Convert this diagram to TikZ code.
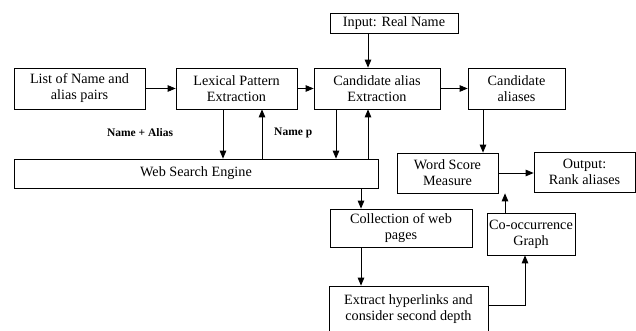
\documentclass[tikz,border=0pt]{standalone}
\usepackage{fontspec}
\setmainfont{Liberation Serif}
\usepackage{tikz}
\usetikzlibrary{arrows}
\tikzstyle{box} = [draw, line width=0.8pt, inner sep=0pt, align=center, font=\fontsize{14.2}{16}\selectfont]
\tikzstyle{lbl} = [inner sep=0pt, font=\fontsize{11.5}{13}\selectfont\bfseries]
\tikzstyle{con} = [->, >=triangle 45, line width=0.8pt]

\begin{document}
\begin{tikzpicture}[x=1pt,y=-1pt]
\useasboundingbox (0,0) rectangle (636,331);
    \clip (0,0) rectangle (636,331);

	\node[box, minimum width=131pt, minimum height=41pt] (list) at (79.5,88.5) {List of Name and\\alias pairs};
	\node[box, minimum width=121pt, minimum height=41pt] (lex) at (236.5,88.5) {Lexical Pattern\\Extraction};
	\node[box, minimum width=126pt, minimum height=41pt] (cand) at (377,88.5) {Candidate alias\\Extraction};
	\node[box, minimum width=128pt, minimum height=20pt] (input) at (394,23) {Input: Real Name};
	\node[box, minimum width=97pt, minimum height=41pt] (cal) at (516.5,88.5) {Candidate\\aliases};

	\node[box, minimum width=364pt, minimum height=29pt] (web) at (196,173.5) {Web Search Engine};
	\node[box, minimum width=101pt, minimum height=40pt] (word) at (447.5,173) {Word Score\\Measure};
	\node[box, minimum width=101pt, minimum height=40pt] (out) at (584.5,172) {Output:\\Rank aliases};

	\node[box, minimum width=142pt, minimum height=38pt] (coll) at (401,228) {Collection of web\\pages};
	\node[box, minimum width=88pt, minimum height=42pt] (cooc) at (531,234) {Co-occurrence\\Graph};
	\node[box, minimum width=159pt, minimum height=46pt] (ext) at (408.5,309) {Extract hyperlinks and\\consider second depth};

    \node[lbl] (na) at (140,133) {Name + Alias};
    \node[lbl, anchor=west] (np) at (274,133) {Name p};

    \draw[con] (list.east) -- (lex.west);
    \draw[con] (lex.east) -- (cand.west);
    \draw[con] (cand.east) -- (cal.west);
    \draw[con] ([xshift=-9pt]cand.north |- input.south) -- ([xshift=-9pt]cand.north);

    \draw[con] ([xshift=-13.5pt]lex.south) -- ([xshift=-13.5pt]lex.south |- web.north);
    \draw[con] ([xshift=25.5pt]lex.south |- web.north) -- ([xshift=25.5pt]lex.south);
    \draw[con] ([xshift=-41pt]cand.south) -- ([xshift=-41pt]cand.south |- web.north);
    \draw[con] ([xshift=-9pt]cand.south |- web.north) -- ([xshift=-9pt]cand.south);

    \draw[con] ([xshift=-33.5pt]cal.south) -- ([xshift=-33.5pt]cal.south |- word.north);
    \draw[con] (word.east) -- (word.east -| out.west);
    \draw[con] ([xshift=-26pt]cooc.north) -- ([xshift=-26pt]cooc.north |- word.south);

    \draw[con] ([xshift=-40pt]coll.north |- web.south) -- ([xshift=-40pt]coll.north);
    \draw[con] ([xshift=-40pt]coll.south) -- ([xshift=-40pt]coll.south |- ext.north);
    \draw[con] ([yshift=4pt]ext.east) -| ([xshift=-6pt]cooc.south);
\end{tikzpicture}
\end{document}
